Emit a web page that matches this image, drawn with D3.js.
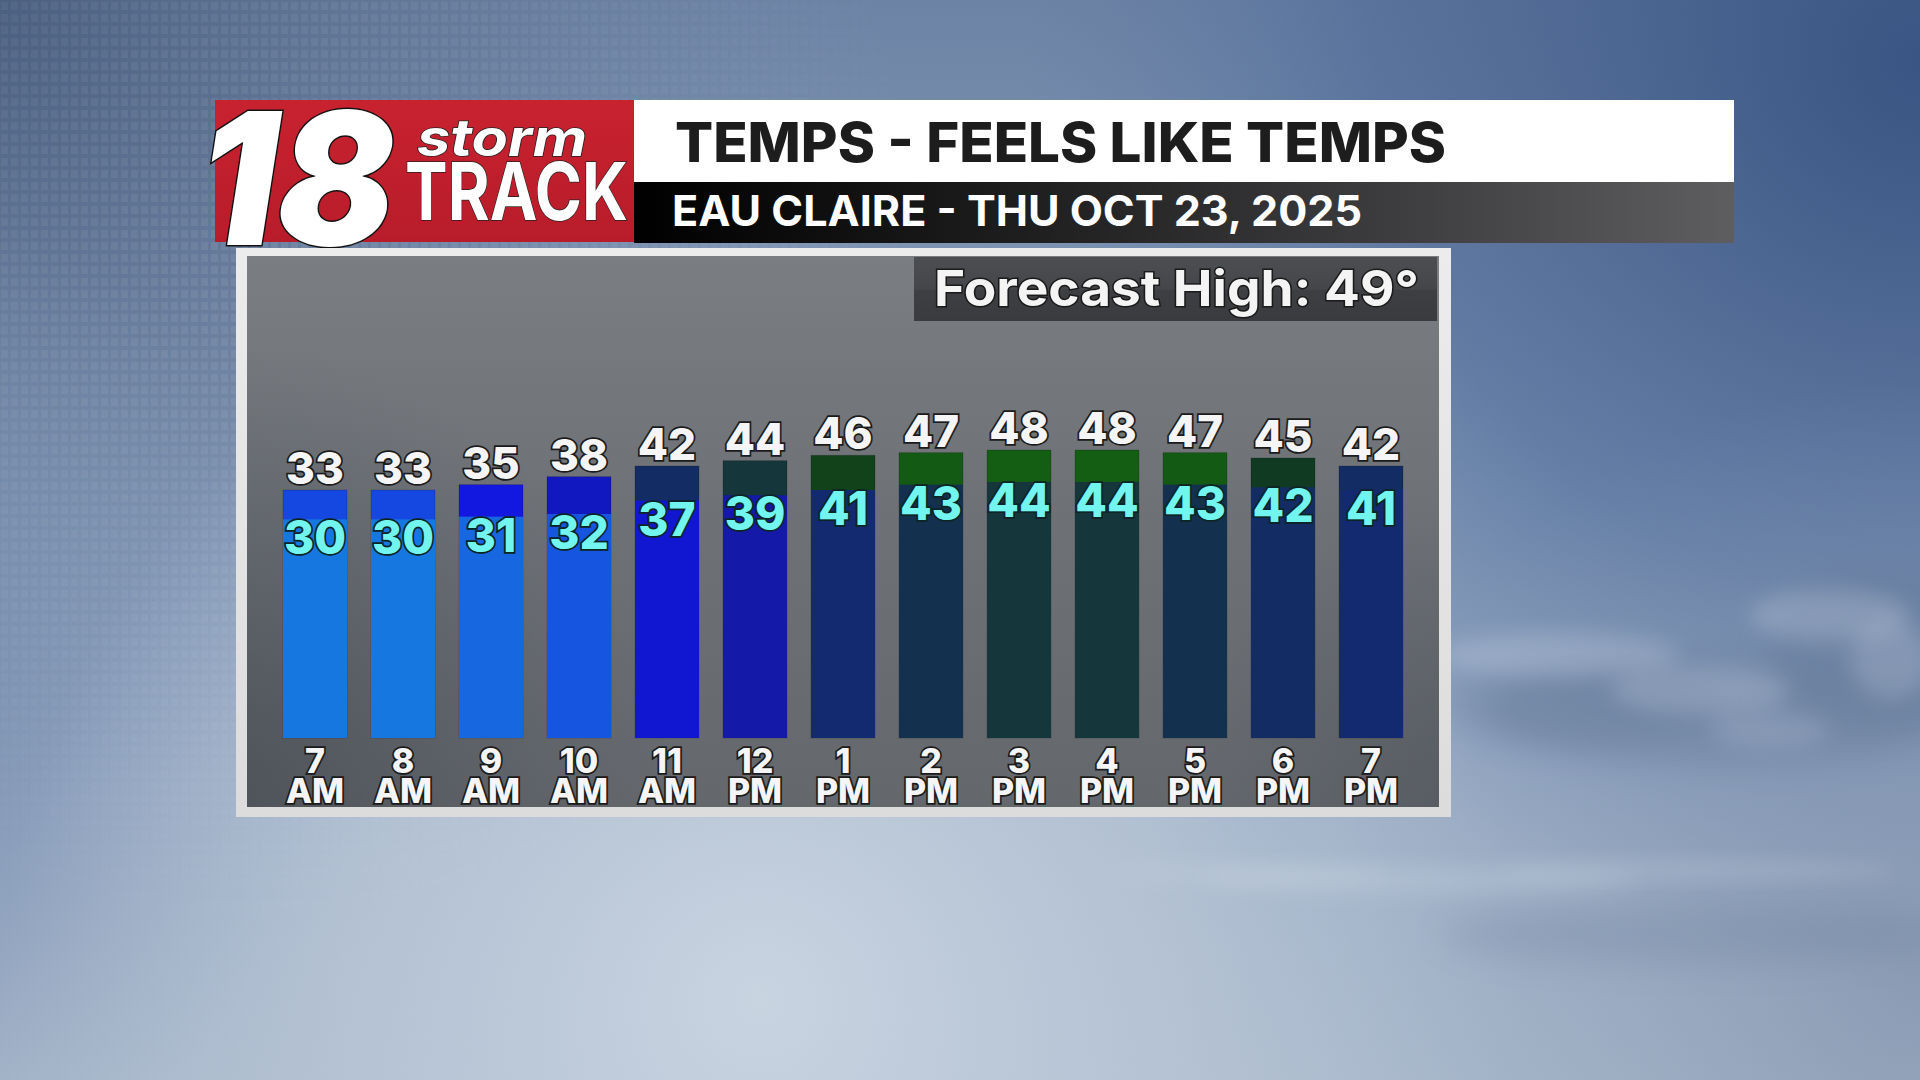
<!DOCTYPE html>
<html>
<head>
<meta charset="utf-8">
<script src="https://cdn.jsdelivr.net/npm/d3@7"></script>
<style>
  html, body { margin: 0; padding: 0; background: #8fa3bf; overflow: hidden; }
  svg { display: block; }
  text { font-family: Inter, "Open Sans", sans-serif; }
</style>
</head>
<body>
<svg id="chart" width="1920" height="1080"></svg>
<script>
// ---------------- DATA ----------------
const hourLabels = ["7 AM", "8 AM", "9 AM", "10 AM", "11 AM", "12 PM", "1 PM", "2 PM", "3 PM", "4 PM", "5 PM", "6 PM", "7 PM"];
const temps      = [33, 33, 35, 38, 42, 44, 46, 47, 48, 48, 47, 45, 42];
const feelsLike  = [30, 30, 31, 32, 37, 39, 41, 43, 44, 44, 43, 42, 41];
const titleText    = "TEMPS - FEELS LIKE TEMPS";
const subtitleText = "EAU CLAIRE - THU OCT 23, 2025";
const forecastHigh = 49;

// colour ramp (degrees -> colour) used by the station graphic
const rampDegrees = [30, 31, 32, 33, 35, 37, 38, 39, 41, 42, 43, 44, 45, 46, 47, 48];
const rampColors  = ["#1677e0", "#1767e0", "#1555e0", "#1448e0", "#1318e0", "#1117d0", "#1218c0", "#1419a8",
                     "#132a70", "#132c64", "#13314e", "#15363a", "#103b22", "#11421a", "#135a14", "#145e14"];

// ---------------- SETUP ----------------
const svg = d3.select("#chart");
const defs = svg.append("defs");
const W = 1920, H = 1080;

function linGrad(id, x1, y1, x2, y2, stops) {
  const g = defs.append("linearGradient").attr("id", id)
    .attr("x1", x1).attr("y1", y1).attr("x2", x2).attr("y2", y2);
  stops.forEach(s => g.append("stop").attr("offset", s[0]).attr("stop-color", s[1]).attr("stop-opacity", s[2] === undefined ? 1 : s[2]));
  return g;
}
function radGrad(id, cx, cy, r, stops) {
  const g = defs.append("radialGradient").attr("id", id)
    .attr("gradientUnits", "userSpaceOnUse").attr("cx", cx).attr("cy", cy).attr("r", r);
  stops.forEach(s => g.append("stop").attr("offset", s[0]).attr("stop-color", s[1]).attr("stop-opacity", s[2] === undefined ? 1 : s[2]));
  return g;
}

// ---------------- BACKGROUND ----------------
linGrad("bgBase", 0, 0, 0, 1, [[0, "#6d83a5"], [0.45, "#8ea3c0"], [1, "#a9b8cb"]]);
radGrad("bgLight", 760, 1000, 760, [[0, "#c9d4e1"], [0.55, "#bac7d7", 0.7], [1, "#b0bfd2", 0]]);
radGrad("bgDarkTR", 1920, 60, 900, [[0, "#3a5483"], [0.6, "#4a6694", 0.6], [1, "#5a76a0", 0]]);
radGrad("bgDarkTL", 0, 0, 800, [[0, "#4b5f80"], [0.6, "#5e7393", 0.5], [1, "#6c82a3", 0]]);
radGrad("bgDarkL", -150, 700, 500, [[0, "#6c83a8", 0.8], [1, "#7f95b5", 0]]);
radGrad("bgDarkBR", 1920, 980, 600, [[0, "#7f90aa", 0.7], [1, "#8e9fb8", 0]]);

svg.append("rect").attr("width", W).attr("height", H).attr("fill", "url(#bgBase)");
svg.append("rect").attr("width", W).attr("height", H).attr("fill", "url(#bgDarkTL)");
svg.append("rect").attr("width", W).attr("height", H).attr("fill", "url(#bgDarkTR)");
svg.append("rect").attr("width", W).attr("height", H).attr("fill", "url(#bgDarkL)");
svg.append("rect").attr("width", W).attr("height", H).attr("fill", "url(#bgDarkBR)");
svg.append("rect").attr("width", W).attr("height", H).attr("fill", "url(#bgLight)");

// digital grid texture (top-left)
const pat = defs.append("pattern").attr("id", "gridPat").attr("patternUnits", "userSpaceOnUse")
  .attr("width", 10).attr("height", 12);
pat.append("rect").attr("x", 1).attr("y", 2).attr("width", 7).attr("height", 8).attr("fill", "#ffffff");
radGrad("gridFade", 260, 260, 700, [[0, "#fff", 1], [0.6, "#fff", 0.5], [1, "#fff", 0]]);
const gm = defs.append("mask").attr("id", "gridMask");
gm.append("rect").attr("width", W).attr("height", H).attr("fill", "url(#gridFade)");
svg.append("rect").attr("width", 1100).attr("height", 1080).attr("fill", "url(#gridPat)")
  .attr("opacity", 0.07).attr("mask", "url(#gridMask)");

// clouds on the right (soft)
const cloudBlur = defs.append("filter").attr("id", "cloudBlur").attr("x", "-50%").attr("y", "-50%").attr("width", "200%").attr("height", "200%");
cloudBlur.append("feGaussianBlur").attr("stdDeviation", 16);
const softBlur = defs.append("filter").attr("id", "softBlur").attr("x", "-50%").attr("y", "-50%").attr("width", "200%").attr("height", "200%");
softBlur.append("feGaussianBlur").attr("stdDeviation", 10);

const clouds = svg.append("g");
// darker cloud bodies
[[1720, 710, 240, 55, 0.28], [1880, 650, 110, 80, 0.26], [1580, 705, 140, 40, 0.2], [1700, 935, 260, 30, 0.2]].forEach(c =>
  clouds.append("ellipse").attr("cx", c[0]).attr("cy", c[1]).attr("rx", c[2]).attr("ry", c[3])
    .attr("fill", "#5c7190").attr("opacity", c[4]).attr("filter", "url(#cloudBlur)"));
// bright cloud tops
[[1560, 655, 120, 22, 0.22], [1700, 690, 90, 24, 0.2], [1830, 615, 80, 26, 0.22], [1890, 660, 40, 40, 0.18],
 [1770, 730, 60, 18, 0.14]].forEach(c =>
  clouds.append("ellipse").attr("cx", c[0]).attr("cy", c[1]).attr("rx", c[2]).attr("ry", c[3])
    .attr("fill", "#e2e9f2").attr("opacity", c[4]).attr("filter", "url(#softBlur)"));
// lower streaks
[[1420, 880, 220, 14, 0.18], [1700, 870, 200, 10, 0.16], [1250, 872, 140, 10, 0.12]].forEach(c =>
  clouds.append("ellipse").attr("cx", c[0]).attr("cy", c[1]).attr("rx", c[2]).attr("ry", c[3])
    .attr("fill", "#e3eaf2").attr("opacity", c[4]).attr("filter", "url(#softBlur)"));

// ---------------- HEADER ----------------
// logo box
linGrad("redGrad", 0, 0, 0, 1, [[0, "#c8222f"], [1, "#b81c2a"]]);
svg.append("rect").attr("x", 215).attr("y", 100).attr("width", 419).attr("height", 142).attr("fill", "url(#redGrad)");
svg.append("text").attr("x", 199).attr("y", 245)
  .attr("font-family", "Roboto, 'Liberation Sans', sans-serif")
  .attr("font-weight", 900).attr("font-style", "italic").attr("font-size", 184)
  .attr("textLength", 196).attr("lengthAdjust", "spacingAndGlyphs")
  .attr("fill", "#fff").attr("stroke", "#111").attr("stroke-width", 3).attr("paint-order", "stroke")
  .text("18");
svg.append("text").attr("x", 417).attr("y", 156)
  .attr("font-family", "Roboto, 'Liberation Sans', sans-serif")
  .attr("font-weight", 700).attr("font-style", "italic").attr("font-size", 52)
  .attr("textLength", 170).attr("lengthAdjust", "spacingAndGlyphs")
  .attr("fill", "#fff").attr("stroke", "#222").attr("stroke-width", 1.5).attr("paint-order", "stroke")
  .text("storm");
svg.append("text").attr("x", 405).attr("y", 220)
  .attr("font-family", "Roboto, 'Liberation Sans', sans-serif")
  .attr("font-weight", 700).attr("font-size", 80)
  .attr("textLength", 223).attr("lengthAdjust", "spacingAndGlyphs")
  .attr("fill", "#fff").attr("stroke", "#222").attr("stroke-width", 1.5).attr("paint-order", "stroke")
  .text("TRACK");

// title bars
svg.append("rect").attr("x", 634).attr("y", 100).attr("width", 1100).attr("height", 82).attr("fill", "#ffffff");
linGrad("darkBar", 0, 0, 1, 0, [[0, "#000000"], [0.35, "#1e1e1f"], [0.7, "#3e3e40"], [1, "#5e5e61"]]);
svg.append("rect").attr("x", 634).attr("y", 182).attr("width", 1100).attr("height", 61).attr("fill", "url(#darkBar)");
svg.append("text").attr("x", 675).attr("y", 162)
  .attr("font-weight", 800).attr("font-size", 55).attr("fill", "#1d1d1d")
  .attr("textLength", 771).attr("lengthAdjust", "spacingAndGlyphs")
  .text(titleText);
svg.append("text").attr("x", 672).attr("y", 226)
  .attr("font-weight", 700).attr("font-size", 43).attr("fill", "#ffffff")
  .attr("textLength", 690).attr("lengthAdjust", "spacingAndGlyphs")
  .text(subtitleText);

// ---------------- PANEL ----------------
const panel = { x0: 247, y0: 256, x1: 1439, y1: 807 };
linGrad("frameGrad", 0, 0, 0, 1, [[0, "#ececec"], [1, "#dcdcdc"]]);
svg.append("rect").attr("x", 236).attr("y", 248).attr("width", 1215).attr("height", 569).attr("fill", "url(#frameGrad)");
linGrad("panelGrad", 0, 0, 0, 1, [[0, "#7a7e83"], [0.45, "#6e7277"], [1, "#64686d"]]);
svg.append("rect").attr("x", panel.x0).attr("y", panel.y0).attr("width", panel.x1 - panel.x0).attr("height", panel.y1 - panel.y0)
  .attr("fill", "url(#panelGrad)");
radGrad("panelDark", 200, 820, 480, [[0, "#464b52", 0.8], [1, "#50555b", 0]]);
svg.append("rect").attr("x", panel.x0).attr("y", panel.y0).attr("width", panel.x1 - panel.x0).attr("height", panel.y1 - panel.y0)
  .attr("fill", "url(#panelDark)");
radGrad("panelDarkR", 1480, 800, 300, [[0, "#4e535a", 0.6], [1, "#50555b", 0]]);
svg.append("rect").attr("x", panel.x0).attr("y", panel.y0).attr("width", panel.x1 - panel.x0).attr("height", panel.y1 - panel.y0)
  .attr("fill", "url(#panelDarkR)");

// forecast high box
linGrad("fhGrad", 0, 0, 0, 1, [[0, "#4c4e51"], [0.5, "#444649"], [0.52, "#3d3f42"], [1, "#393b3e"]]);
svg.append("rect").attr("x", 914).attr("y", 257).attr("width", 523).attr("height", 64).attr("fill", "url(#fhGrad)");
svg.append("text").attr("x", 934).attr("y", 306)
  .attr("font-weight", 700).attr("font-size", 50).attr("fill", "#f4f4f4")
  .attr("stroke", "#1a1a1a").attr("stroke-width", 3).attr("paint-order", "stroke")
  .attr("textLength", 485).attr("lengthAdjust", "spacingAndGlyphs")
  .text(`Forecast High:  ${forecastHigh}°`);

// ---------------- SCALES ----------------
const baseY = 738;
const x = d3.scaleBand().domain(hourLabels).range([271, 1415]).paddingInner(24 / 88).paddingOuter(12 / 88);
const yTemp  = d3.scaleLinear().domain([-60, 120]).range([baseY, 258]);
const yFeels = d3.scaleLinear().domain([-52, 128]).range([baseY, 258]);
const color  = d3.scaleLinear().domain(rampDegrees).range(rampColors).clamp(true);

const rows = hourLabels.map((h, i) => ({ h, t: temps[i], f: feelsLike[i] }));

// ---------------- BARS ----------------
const bars = svg.append("g");
bars.selectAll("rect.temp").data(rows).join("rect").attr("class", "temp")
  .attr("x", d => x(d.h)).attr("width", x.bandwidth())
  .attr("y", d => yTemp(d.t)).attr("height", d => baseY - yTemp(d.t))
  .attr("fill", d => color(d.t)).attr("stroke", "rgba(0,0,0,0.18)").attr("stroke-width", 1);
bars.selectAll("rect.feels").data(rows).join("rect").attr("class", "feels")
  .attr("x", d => x(d.h)).attr("width", x.bandwidth())
  .attr("y", d => yFeels(d.f)).attr("height", d => baseY - yFeels(d.f))
  .attr("fill", d => color(d.f));

// temp labels
svg.append("g").selectAll("text").data(rows).join("text")
  .attr("x", d => x(d.h) + x.bandwidth() / 2).attr("y", d => yTemp(d.t) - 6)
  .attr("text-anchor", "middle").attr("font-weight", 800).attr("font-size", 44)
  .attr("fill", "#f5f5f5").attr("stroke", "#1b1b1b").attr("stroke-width", 3.5).attr("paint-order", "stroke")
  .text(d => d.t);

// feels-like labels
svg.append("g").selectAll("text").data(rows).join("text")
  .attr("x", d => x(d.h) + x.bandwidth() / 2).attr("y", d => yFeels(d.f) + 35)
  .attr("text-anchor", "middle").attr("font-weight", 800).attr("font-size", 46)
  .attr("fill", "#72f4ef").attr("stroke", "#0c2424").attr("stroke-width", 3.5).attr("paint-order", "stroke")
  .text(d => d.f);

// hour labels (axis): two lines per hour
const axisG = svg.append("g");
rows.forEach(d => {
  const parts = d.h.split(" ");
  const cx = x(d.h) + x.bandwidth() / 2;
  const t = axisG.append("text")
    .attr("x", cx).attr("y", 773)
    .attr("text-anchor", "middle").attr("font-weight", 800).attr("font-size", 34)
    .attr("fill", "#f5f5f5").attr("stroke", "#1b1b1b").attr("stroke-width", 3.5).attr("paint-order", "stroke");
  t.append("tspan").attr("x", cx).attr("dy", 0).text(parts[0]);
  t.append("tspan").attr("x", cx).attr("dy", 30).text(parts[1]);
});
</script>
</body>
</html>
